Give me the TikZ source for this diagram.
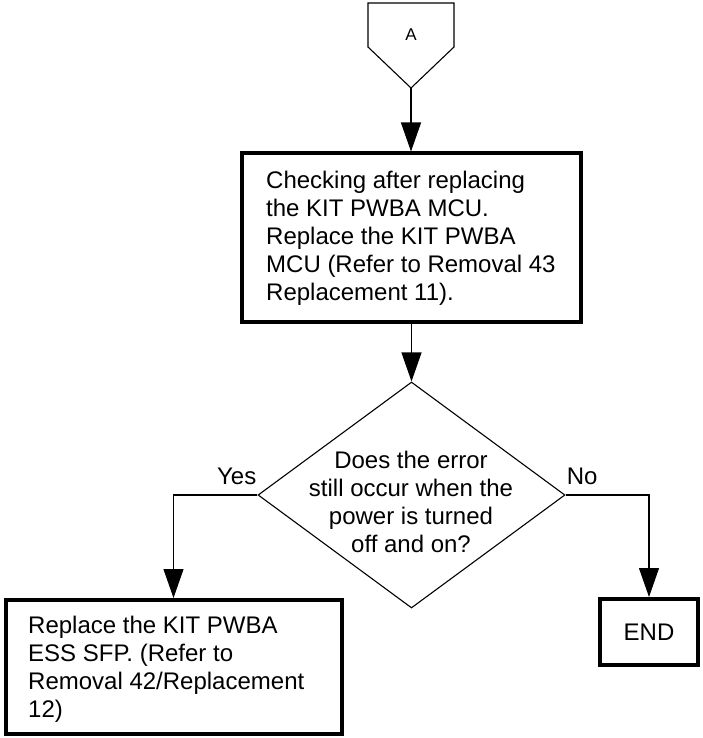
\documentclass[tikz,border=0pt]{standalone}
\usepackage{fontspec}
\setmainfont{Liberation Sans}
\usetikzlibrary{arrows.meta,shapes.geometric}
\begin{document}
\begin{tikzpicture}[x=1pt,y=-1pt,
  thinline/.style={line width=1.1pt},
  stepbox/.style={draw, rectangle, line width=4pt, inner sep=0pt},
  decision/.style={draw, diamond, line width=1.1pt, inner sep=0pt,
    minimum width=307pt, minimum height=226pt},
  txt/.style={font=\fontsize{24}{28}\selectfont, inner sep=0pt},
  flow/.style={line width=1.1pt, -{Triangle[length=29pt,width=20pt]}},
]
\useasboundingbox (0,0) rectangle (702,738);

% off-page connector A
\draw[thinline, line join=miter] (368,3) -- (454,3) -- (454,47) -- (411,88) -- (368,47) -- cycle;
\coordinate (tipA) at (411,88);
\node[font=\fontsize{17}{20}\selectfont, inner sep=0pt] (A) at (411,35) {A};

% process boxes
\node[stepbox, minimum width=339pt, minimum height=168pt] (b1) at (411.5,237.5) {};
\node[txt, anchor=west, align=left] (b1t) at (266,238)
  {Checking after replacing\\the KIT PWBA MCU.\\Replace the KIT PWBA\\MCU (Refer to Removal 43\\Replacement 11).};

\node[decision] (d) at (411.5,495) {};
\node[txt, align=center] (dt) at (411,502)
  {Does the error\\still occur when the\\power is turned\\off and on?};

\node[stepbox, minimum width=336pt, minimum height=134pt] (b2) at (173.5,667) {};
\node[txt, anchor=west, align=left] (b2t) at (28,669)
  {Replace the KIT PWBA\\ESS SFP. (Refer to\\Removal 42/Replacement\\12)};

\node[stepbox, minimum width=98pt, minimum height=66pt, txt] (end) at (649,632) {END};

% branch labels
\node[txt, anchor=base east, yshift=11pt, xshift=-1pt] (yes) at (d.west) {Yes};
\node[txt, anchor=base west, yshift=11pt, xshift=1pt] (no) at (d.east) {No};

% connectors
\draw[flow] (tipA) -- (tipA |- b1.north);
\draw[flow] (b1.south) -- (d.north);
\draw[flow] (d.west) -| (b2.north);
\draw[flow] (d.east) -| (end.north);
\end{tikzpicture}
\end{document}
